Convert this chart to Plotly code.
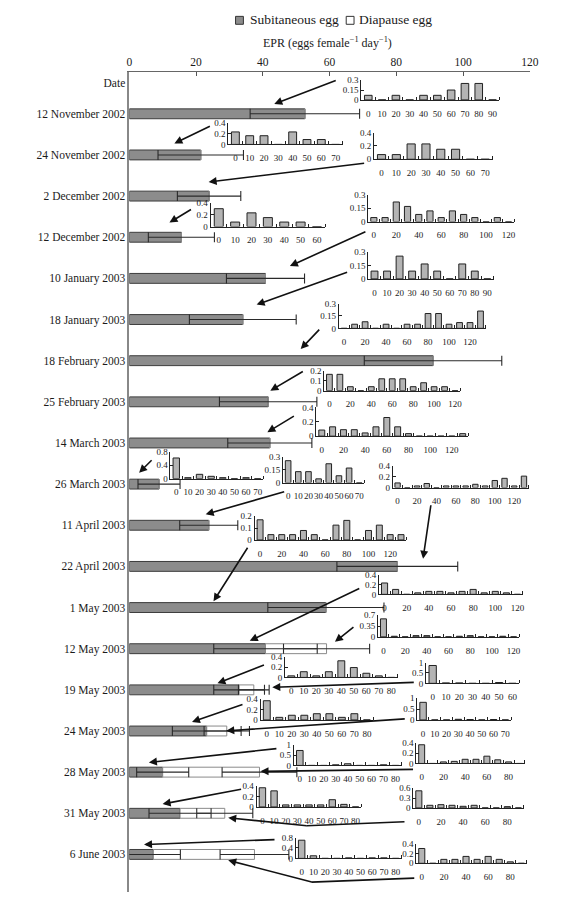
import plotly.graph_objects as go

W, H = 577, 897

# ---------------- main chart data ----------------
dates = ["12 November 2002", "24 November 2002", "2 December 2002", "12 December 2002",
         "10 January 2003", "18 January 2003", "18 February 2003", "25 February 2003",
         "14 March 2003", "26 March 2003", "11 April 2003", "22 April 2003", "1 May 2003",
         "12 May 2003", "19 May 2003", "24 May 2003", "28 May 2003", "31 May 2003", "6 June 2003"]
sub_mean = [52.6, 21.4, 23.9, 15.6, 40.8, 34.0, 91.0, 41.6, 42.1, 8.9, 23.8, 80.3, 58.9,
            40.8, 32.9, 23.2, 10.0, 15.2, 7.2]
sub_sd = [16.4, 12.8, 9.5, 9.9, 11.7, 16.0, 20.6, 14.6, 12.6, 6.3, 8.7, 18.1, 17.4,
          15.5, 7.6, 10.3, 7.8, 9.3, 8.1]
dia_mean = [0, 0, 0, 0, 0, 0, 0, 0, 0, 0, 0, 0, 0, 18.3, 4.4, 6.0, 29.0, 13.4, 30.3]
dia_sd = [0, 0, 0, 0, 0, 0, 0, 0, 0, 0, 0, 0, 0, 12.9, 4.6, 6.8, 11.2, 8.4, 10.3]
epr_ticks = [0, 20, 40, 60, 80, 100, 120]

# ---------------- inset histogram data (proportion per 10-unit class) ----------------
h_12nov = [0.07, 0, 0.07, 0, 0.07, 0.07, 0.15, 0.25, 0.25, 0]
h_24nov_a = [0.23, 0.16, 0.16, 0, 0.23, 0.09, 0.09, 0]
h_24nov_b = [0.07, 0.07, 0.23, 0.23, 0.15, 0.15, 0, 0]
h_12dec_a = [0.30, 0.075, 0.23, 0.15, 0.075, 0.075, 0]
h_12dec_b = [0.045, 0.045, 0.22, 0.17, 0.08, 0.12, 0.045, 0.12, 0.08, 0.045, 0, 0.045, 0]
h_10jan = [0.088, 0.088, 0.256, 0.088, 0.168, 0.088, 0, 0.168, 0.088, 0]
h_18jan = [0, 0.05, 0.08, 0, 0.05, 0, 0.05, 0.05, 0.18, 0.18, 0.05, 0.07, 0.07, 0.21]
h_25feb = [0.165, 0.165, 0.04, 0, 0.04, 0.12, 0.12, 0.12, 0.04, 0.08, 0.04, 0.04, 0]
h_14mar = [0.085, 0.13, 0.09, 0.09, 0.045, 0.13, 0.26, 0.13, 0.035, 0, 0, 0, 0, 0.035]
h_26mar_a = [0.62, 0.03, 0.13, 0.07, 0.03, 0, 0.03, 0]
h_26mar_b = [0.256, 0.128, 0.128, 0.044, 0.22, 0.08, 0.17, 0]
h_26mar_c = [0.085, 0, 0.03, 0.075, 0, 0.03, 0.03, 0.03, 0.06, 0.03, 0.13, 0.17, 0.03, 0.21]
h_11apr = [0.17, 0.045, 0.045, 0.045, 0.08, 0.045, 0, 0.125, 0.165, 0, 0.08, 0.125, 0.045, 0.045]
h_1may = [0.23, 0.1, 0, 0.03, 0.06, 0.06, 0.03, 0.06, 0.1, 0.03, 0.06, 0.03, 0]
h_12may = [0.58, 0.02, 0, 0.04, 0.04, 0, 0, 0.02, 0.04, 0, 0, 0.02, 0]
h_19may_a = [0.03, 0.11, 0.03, 0.11, 0.32, 0.19, 0.08, 0.03, 0]
h_19may_b = [0.86, 0.02, 0.02, 0, 0, 0.04, 0]
h_24may_a = [0.37, 0.05, 0.09, 0.09, 0.12, 0.12, 0.05, 0.12, 0]
h_24may_b = [0.81, 0, 0, 0.03, 0.02, 0, 0.02, 0]
h_28may_a = [0.72, 0, 0, 0.03, 0.08, 0, 0, 0.03, 0]
h_28may_b = [0.36, 0, 0.03, 0.04, 0.08, 0.08, 0.14, 0.07, 0.03, 0]
h_31may_a = [0.37, 0.31, 0.04, 0.04, 0.04, 0.04, 0.14, 0.05, 0]
h_31may_b = [0.52, 0.08, 0.1, 0.08, 0.05, 0.08, 0, 0, 0.04, 0]
h_6jun_a = [0.7, 0.1, 0, 0, 0.02, 0, 0.02, 0.02, 0]
h_6jun_b = [0.3, 0, 0.08, 0.08, 0.14, 0.08, 0.14, 0.08, 0.03, 0]

# ---------------- layout geometry (pixels) ----------------
# (data, y max, x label step, axis-left px, axis-right px, baseline px, top px)
insets = [
    (h_12nov, 0.3, 10, 366, 507, 96, 76),
    (h_24nov_a, 0.4, 10, 230, 347, 141, 119),
    (h_24nov_b, 0.4, 10, 379, 500, 156, 129),
    (h_12dec_a, 0.4, 10, 212, 329, 224, 200),
    (h_12dec_b, 0.3, 20, 373, 522, 219, 192),
    (h_10jan, 0.3, 10, 373, 501, 277, 250),
    (h_18jan, 0.3, 20, 343, 493, 327, 302),
    (h_25feb, 0.2, 20, 328, 467, 390, 370),
    (h_14mar, 0.4, 20, 320, 475, 436, 407),
    (h_26mar_a, 0.8, 10, 171, 266, 479, 452),
    (h_26mar_b, 0.3, 10, 286, 369, 483, 457),
    (h_26mar_c, 0.4, 20, 398, 537, 488, 466),
    (h_11apr, 0.2, 20, 257, 412, 541, 517),
    (h_1may, 0.4, 20, 384, 531, 596, 576),
    (h_12may, 0.7, 20, 383, 527, 639, 617),
    (h_19may_a, 0.4, 10, 288, 403, 680, 659),
    (h_19may_b, 1, 10, 432, 527, 686, 665),
    (h_24may_a, 0.4, 10, 263, 378, 723, 702),
    (h_24may_b, 1, 10, 423, 519, 723, 701),
    (h_28may_a, 1, 10, 297, 407, 769, 748),
    (h_28may_b, 0.4, 20, 422, 533, 767, 746),
    (h_31may_a, 0.4, 10, 259, 366, 811, 790),
    (h_31may_b, 0.6, 20, 419, 532, 812, 792),
    (h_6jun_a, 0.8, 10, 299, 407, 863, 842),
    (h_6jun_b, 0.4, 20, 422, 535, 868, 848),
]

# arrows: (tail px, head px)
arrows = [
    ((340, 76), (277, 100)), ((212, 122), (175, 140)), ((367, 160), (210, 179)),
    ((193, 206), (170, 220)), ((370, 229), (293, 264)), ((351, 270), (259, 303)),
    ((324, 327), (304, 348)), ((307, 370), (273, 390)), ((298, 415), (270, 432)),
    ((153, 459), (139, 473)), ((287, 492), (207, 515)), ((437, 505), (429, 560)),
    ((250, 548), (215, 603)), ((363, 590), (252, 643)), ((359, 628), (339, 644)),
    ((267, 667), (219, 686)), ((418, 685), (275, 690)), ((245, 707), (193, 725)),
    ((408, 722), (228, 734)), ((278, 752), (149, 766)), ((417, 773), (263, 775)),
    ((243, 793), (163, 808)), ((310, 830), (230, 822)), ((276, 844), (144, 849)),
    ((315, 887), (230, 865)),
]
plain_lines = [((410, 826), (310, 830)), ((420, 883), (315, 887))]

FONT = "Liberation Serif"
SUB_COLOR = "#8c8c8c"
INSET_COLOR = "#b4b4b4"


def px(x):
    return x / W


def py(y):
    return 1 - y / H


fig = go.Figure()
rows = list(range(len(dates)))

fig.add_trace(go.Bar(y=rows, x=sub_mean, orientation="h", width=0.24,
                     marker=dict(color=SUB_COLOR, line=dict(color="#3c3c3c", width=1)),
                     showlegend=False, hoverinfo="skip"))
fig.add_trace(go.Bar(y=rows, x=dia_mean, base=sub_mean, orientation="h", width=0.24,
                     marker=dict(color="white", line=dict(color="#8a8a8a", width=1)),
                     showlegend=False, hoverinfo="skip"))
fig.add_trace(go.Scatter(y=rows, x=sub_mean, mode="markers",
                         marker=dict(size=2, color="rgba(0,0,0,0)"),
                         error_x=dict(type="data", array=sub_sd, symmetric=True,
                                      color="#2a2a2a", thickness=1.1, width=5),
                         showlegend=False, hoverinfo="skip"))
dia_rows = [r for r in rows if dia_mean[r] > 0]
fig.add_trace(go.Scatter(y=dia_rows, x=[sub_mean[r] + dia_mean[r] for r in dia_rows],
                         mode="markers", marker=dict(size=2, color="rgba(0,0,0,0)"),
                         error_x=dict(type="data", array=[dia_sd[r] for r in dia_rows],
                                      symmetric=True, color="#2a2a2a", thickness=1.1, width=5),
                         showlegend=False, hoverinfo="skip"))

layout = dict(
    width=W, height=H, margin=dict(l=0, r=0, t=0, b=0),
    paper_bgcolor="white", plot_bgcolor="rgba(0,0,0,0)",
    font=dict(family=FONT, color="#1a1a1a"),
    barmode="overlay", showlegend=False,
    xaxis=dict(domain=[px(129), px(538)], anchor="y", side="top", range=[0, 120],
               tickvals=epr_ticks, ticks="inside", ticklen=4, tickcolor="#555",
               showline=True, linecolor="#666", linewidth=1.3, showgrid=False,
               zeroline=False, tickfont=dict(size=11.5, family=FONT)),
    yaxis=dict(domain=[0, py(68)], anchor="x", range=[18.913, -1.01],
               tickvals=[-0.745] + rows, ticktext=["Date"] + dates, ticks="",
               showline=True, linecolor="#888", linewidth=1.5, showgrid=False,
               zeroline=False, tickfont=dict(size=11.5, family=FONT)),
)

for i, (vals, ymax, step, x0, x1, yb, yt) in enumerate(insets):
    k = i + 2
    bins = [10 * j for j in range(len(vals))]
    last = bins[-1]
    labs = list(range(0, last + 1, step))
    fig.add_trace(go.Bar(x=bins, y=vals, width=5.5, xaxis=f"x{k}", yaxis=f"y{k}",
                         marker=dict(color=INSET_COLOR, line=dict(color="#222", width=1)),
                         showlegend=False, hoverinfo="skip"))
    mid = ymax / 2
    layout[f"xaxis{k}"] = dict(
        domain=[px(x0), px(x1)], anchor=f"y{k}", range=[-5, last + 5],
        tickvals=labs, ticktext=[str(v) for v in labs], ticks="", tickangle=0,
        showline=True, linecolor="#222", linewidth=1, showgrid=False, zeroline=False,
        tickfont=dict(size=9, family=FONT), ticklabelstandoff=5,
        minor=dict(tickmode="array", tickvals=[b + 5 for b in bins], ticks="inside",
                   ticklen=3, tickcolor="#222", showgrid=False))
    layout[f"yaxis{k}"] = dict(
        domain=[py(yb), py(yt)], anchor=f"x{k}", range=[0, ymax],
        tickvals=[0, mid, ymax], ticktext=["0", f"{round(mid, 3):g}", f"{ymax:g}"],
        ticks="inside", ticklen=3, tickcolor="#222",
        showline=True, linecolor="#222", linewidth=1, showgrid=False, zeroline=False,
        tickfont=dict(size=9, family=FONT))

annotations = [
    dict(x=px(331), y=py(38), xref="paper", yref="paper", showarrow=False,
         xanchor="center", yanchor="middle",
         text="EPR (eggs female<sup>−1</sup> day<sup>−1</sup>)", font=dict(size=12)),
    dict(x=px(250), y=py(15), xref="paper", yref="paper", showarrow=False,
         xanchor="left", yanchor="middle", text="Subitaneous egg", font=dict(size=13.5)),
    dict(x=px(362), y=py(15), xref="paper", yref="paper", showarrow=False,
         xanchor="left", yanchor="middle", text="Diapause egg", font=dict(size=13.5)),
]
for (tx, ty), (hx, hy) in arrows:
    annotations.append(dict(x=px(hx), y=py(hy), xref="paper", yref="paper",
                            ax=tx - hx, ay=ty - hy, axref="pixel", ayref="pixel",
                            showarrow=True, arrowhead=2, arrowsize=1, arrowwidth=1.6,
                            arrowcolor="#111", text=""))
layout["annotations"] = annotations

shapes = [
    dict(type="rect", xref="paper", yref="paper", x0=px(237.5), x1=px(245.5),
         y0=py(19.5), y1=py(11.5), fillcolor=SUB_COLOR, line=dict(color="#333", width=1)),
    dict(type="rect", xref="paper", yref="paper", x0=px(350.5), x1=px(358.5),
         y0=py(19.5), y1=py(11.5), fillcolor="white", line=dict(color="#333", width=1)),
]
for (ax_, ay_), (bx_, by_) in plain_lines:
    shapes.append(dict(type="line", xref="paper", yref="paper", x0=px(ax_), y0=py(ay_),
                       x1=px(bx_), y1=py(by_), line=dict(color="#111", width=1.6)))
layout["shapes"] = shapes

fig.update_layout(**layout)
fig.write_html("out.html", config={"displayModeBar": False})
